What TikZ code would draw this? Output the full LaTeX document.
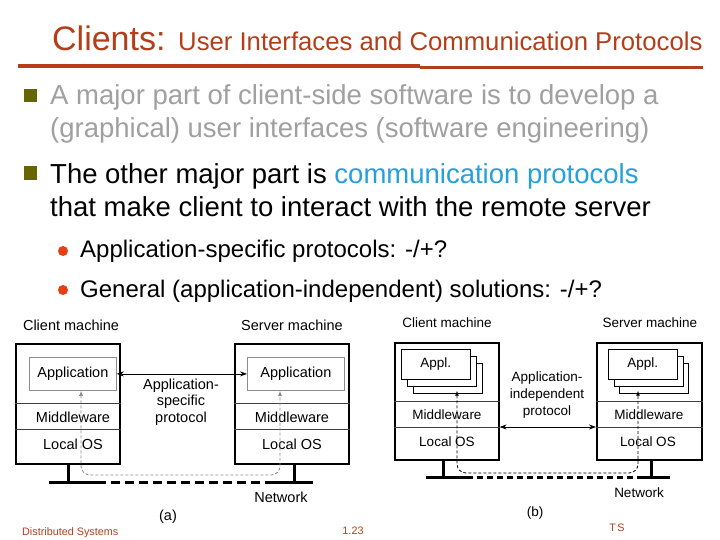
\documentclass[tikz,border=0pt]{standalone}
\usepackage{fontspec}
\setmainfont{Liberation Sans}
\usepackage{xcolor}
\usetikzlibrary{arrows.meta, positioning}

\definecolor{brick}{RGB}{181,62,26}
\definecolor{olivesq}{RGB}{102,102,0}
\definecolor{dimtext}{RGB}{160,160,160}
\definecolor{linkblue}{RGB}{38,160,218}
\definecolor{dotred}{RGB}{232,62,20}

\begin{document}
\begin{tikzpicture}[x=1pt, y=-1pt,
    heading/.style={anchor=base west, inner sep=0pt, text=brick},
    itemtext/.style={anchor=base west, inner sep=0pt, font=\fontsize{27.5}{33}\selectfont},
    subtext/.style={anchor=base west, inner sep=0pt, font=\fontsize{24}{28}\selectfont},
    bulletsq/.style={rectangle, fill=olivesq, inner sep=0pt, minimum size=13.5pt},
    bulletdot/.style={circle, fill=dotred, inner sep=0pt, minimum size=10pt},
    footer/.style={anchor=base, inner sep=0pt, text=brick, font=\fontsize{10.8}{12}\selectfont},
    machine/.style={rectangle, draw, line width=1.6pt, inner sep=0pt, anchor=north west},
    appbox/.style={rectangle, draw=black!45, fill=white, line width=0.8pt, inner sep=0pt, anchor=north west},
    stackbox/.style={rectangle, draw, fill=white, line width=0.7pt, inner sep=0pt, anchor=north west,
        minimum width=69pt, minimum height=30pt},
    divider/.style={draw=black!75, line width=0.8pt},
    stand/.style={draw, line width=3pt},
    net/.style={draw, line width=3pt},
    flow/.style={draw, line width=0.8pt, dash pattern=on 3pt off 2pt, rounded corners=9pt, {Latex[length=5pt,width=4pt]}-{Latex[length=5pt,width=4pt]}},
    proto/.style={draw, line width=0.8pt, {Stealth[length=7pt,width=5pt]}-{Stealth[length=7pt,width=5pt]}},
    lbla/.style={inner sep=0pt, font=\fontsize{14.5}{16.5}\selectfont},
    lblb/.style={inner sep=0pt, font=\fontsize{13.5}{17}\selectfont}
]
    \fill[white] (0,0) rectangle (720,540);
    \useasboundingbox (0,0) rectangle (720,540);

    % Title
    \node [heading, font=\fontsize{34}{40}\selectfont] (title) at (52,51) {Clients:};
    \node [heading, font=\fontsize{25.7}{30}\selectfont] (subtitle) at (178,51) {User Interfaces and Communication Protocols};
    \draw [brick, line width=4pt] (18,66) -- (420,66);
    \draw [brick, line width=3.5pt] (420,67.5) -- (703,67.5);

    % Bullets
    \node [bulletsq] (sq1) at (30.5,95.5) {};
    \node [itemtext, text=dimtext] (b1a) at (50,105) {A major part of client-side software is to develop a};
    \node [itemtext, text=dimtext] (b1b) at (50,138) {(graphical) user interfaces (software engineering)};
    \node [bulletsq] (sq2) at (30.5,173) {};
    \node [itemtext] (b2a) at (50,184) {The other major part is \textcolor{linkblue}{communication protocols}};
    \node [itemtext] (b2b) at (50,217) {that make client to interact with the remote server};
    \node [bulletdot] (dt1) at (63,251) {};
    \node [subtext] (s1) at (80,258) {Application-specific protocols: -/+?};
    \node [bulletdot] (dt2) at (63,290) {};
    \node [subtext] (s2) at (80,297) {General (application-independent) solutions: -/+?};

    % (a) application-specific protocol
    \node [lbla] (cla) at (71,325) {Client machine};
    \node [lbla] (sla) at (292,325) {Server machine};
    \node [machine, minimum width=104pt, minimum height=120pt] (cma) at (15,343) {};
    \node [machine, minimum width=114pt, minimum height=120pt] (sma) at (234,343) {};
    \node [appbox, minimum width=87pt, minimum height=33pt, font=\fontsize{14.5}{16}\selectfont] (appa) at (29,357) {Application};
    \node [appbox, minimum width=97pt, minimum height=33pt, font=\fontsize{14.5}{16}\selectfont] (apsa) at (247,357) {Application};
    \coordinate (cut1a) at (0,403);
    \coordinate (cut2a) at (0,429);
    \draw [divider] (cma.west |- cut1a) -- (cma.east |- cut1a);
    \draw [divider] (cma.west |- cut2a) -- (cma.east |- cut2a);
    \draw [divider] (sma.west |- cut1a) -- (sma.east |- cut1a);
    \draw [divider] (sma.west |- cut2a) -- (sma.east |- cut2a);
    \node [lbla] (mwa) at (73,417) {Middleware};
    \node [lbla] (osa) at (73,444) {Local OS};
    \node [lbla] (mwsa) at (292,417) {Middleware};
    \node [lbla] (ossa) at (292,444) {Local OS};
    \coordinate (fta) at (68,482);
    \coordinate (ftsa) at (294,482);
    \draw [stand] (cma.south -| fta) -- (fta);
    \draw [stand] (sma.south -| ftsa) -- (ftsa);
    \coordinate (nwa1) at (49,482);
    \coordinate (nwa2) at (97,482);
    \coordinate (nwa3) at (273,482);
    \coordinate (nwa4) at (313,482);
    \draw [net] (nwa1) -- (nwa2);
    \draw [net, dash pattern=on 9pt off 5pt] (nwa2) -- (nwa3);
    \draw [net] (nwa3) -- (nwa4);
    \coordinate (dla) at (81,475);
    \coordinate (dra) at (280,475);
    \path [flow, draw=black!45] (dla |- appa.south) -- (dla) -- (dra) -- (dra |- apsa.south);
    \path [proto] (appa.east) -- (apsa.west);
    \node [lbla, align=center] (pra) at (181,402) {Application-\\specific\\protocol};
    \node [lbla] (nla) at (281,497) {Network};
    \node [lbla] (capa) at (168,517) {(a)};

    % (b) application-independent protocol
    \node [lblb] (clb) at (447,323) {Client machine};
    \node [lblb] (slb) at (650,323) {Server machine};
    \node [machine, minimum width=104pt, minimum height=117pt] (cmb) at (394,342) {};
    \node [machine, minimum width=105pt, minimum height=117pt] (smb) at (596,342) {};
    \node [stackbox] (apb3) at (413,363) {};
    \node [stackbox] (apb2) at (407,356) {};
    \node [stackbox, font=\fontsize{13.5}{16}\selectfont] (apb1) at (401,349) {Appl.};
    \node [stackbox] (apsb3) at (619,363) {};
    \node [stackbox] (apsb2) at (613.5,356) {};
    \node [stackbox, font=\fontsize{13.5}{16}\selectfont] (apsb1) at (608,349) {Appl.};
    \coordinate (cut1b) at (0,401);
    \coordinate (cut2b) at (0,427);
    \draw [divider] (cmb.west |- cut1b) -- (cmb.east |- cut1b);
    \draw [divider] (cmb.west |- cut2b) -- (cmb.east |- cut2b);
    \draw [divider] (smb.west |- cut1b) -- (smb.east |- cut1b);
    \draw [divider] (smb.west |- cut2b) -- (smb.east |- cut2b);
    \node [lblb] (mwb) at (447,415) {Middleware};
    \node [lblb] (osb) at (447,442) {Local OS};
    \node [lblb] (mwsb) at (649,415) {Middleware};
    \node [lblb] (ossb) at (648,442) {Local OS};
    \coordinate (ftb) at (443,477);
    \coordinate (ftsb) at (651,477);
    \draw [stand] (cmb.south -| ftb) -- (ftb);
    \draw [stand] (smb.south -| ftsb) -- (ftsb);
    \coordinate (nwb1) at (426,477);
    \coordinate (nwb2) at (467,477);
    \coordinate (nwb3) at (637,477);
    \coordinate (nwb4) at (670,477);
    \draw [net] (nwb1) -- (nwb2);
    \draw [net, dash pattern=on 6pt off 4pt] (nwb2) -- (nwb3);
    \draw [net] (nwb3) -- (nwb4);
    \coordinate (dlb) at (457,473);
    \coordinate (drb) at (638,473);
    \path [flow] ([yshift=3pt]dlb |- apb3.south) -- (dlb) -- (drb) -- ([yshift=3pt]drb |- apsb3.south);
    \path [proto] (cmb.east |- cut2b) -- (smb.west |- cut2b);
    \node [lblb, align=center] (prb) at (547,395) {Application-\\independent\\protocol};
    \node [lblb] (nlb) at (639,493) {Network};
    \node [lblb] (capb) at (535,513) {(b)};

    % Footer
    \node [footer, anchor=base west] (ft1) at (22,535) {Distributed Systems};
    \node [footer] (ft2) at (353,534) {1.23};
    \node [footer] (ft3) at (617,531) {T\kern1.5pt S};
\end{tikzpicture}
\end{document}
